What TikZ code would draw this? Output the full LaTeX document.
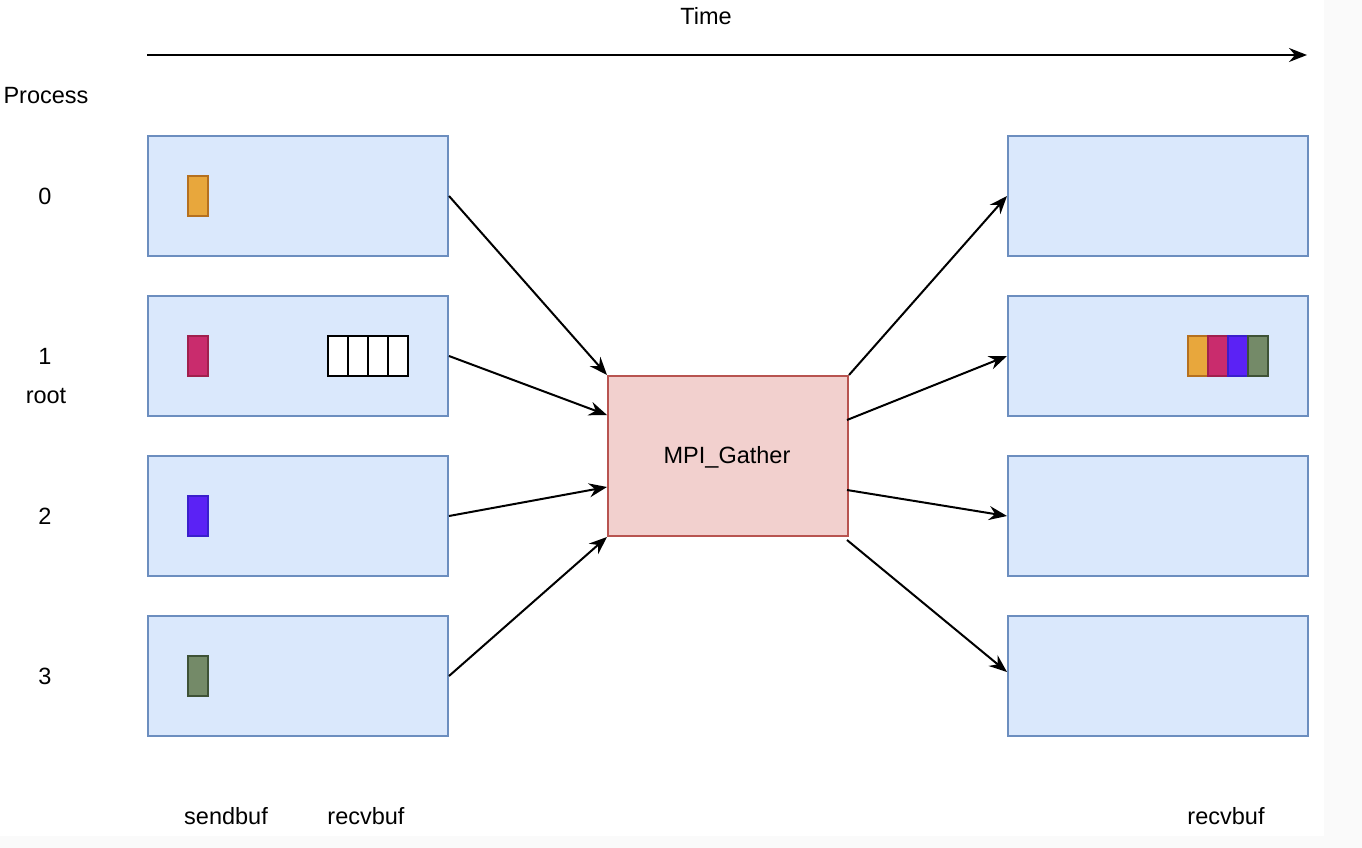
\documentclass[tikz,border=0pt]{standalone}
\usepackage{fontspec}
\setmainfont{Liberation Sans}
\usetikzlibrary{arrows.meta}
\definecolor{procfill}{HTML}{DAE8FC}
\definecolor{procdraw}{HTML}{6C8EBF}
\definecolor{gfill}{HTML}{F2D0CE}
\definecolor{gdraw}{HTML}{B85450}
\definecolor{ofill}{HTML}{E8A73C}
\definecolor{odraw}{HTML}{B5701F}
\definecolor{mfill}{HTML}{C92C6D}
\definecolor{mdraw}{HTML}{A0204D}
\definecolor{bfill}{HTML}{5B22F5}
\definecolor{bdraw}{HTML}{3A1FCC}
\definecolor{vfill}{HTML}{748A68}
\definecolor{vdraw}{HTML}{3E5236}
\definecolor{offwhite}{HTML}{FAFAFA}
\begin{document}
\begin{tikzpicture}[x=1pt,y=-1pt,
  lbl/.style={font=\fontsize{23.5}{28}\selectfont, inner sep=0pt, anchor=center},
  proc/.style={draw=procdraw, fill=procfill, line width=2pt, minimum width=300pt, minimum height=120pt, inner sep=0pt, anchor=north west},
  gather/.style={draw=gdraw, fill=gfill, line width=2pt, minimum width=240pt, minimum height=160pt, inner sep=0pt, anchor=north west},
  blk/.style={line width=2pt, minimum width=20pt, minimum height=40pt, inner sep=0pt, anchor=north west},
  cell/.style={draw=black, fill=white, line width=2pt, minimum width=20pt, minimum height=40pt, inner sep=0pt, anchor=north west},
  conn/.style={line width=2pt, -{Stealth[length=18pt,width=14pt,inset=6pt]}}
]
\fill[offwhite] (0,0) rectangle (1362,848);
\fill[white] (0,0) rectangle (1324,836);
\useasboundingbox (0,0) rectangle (1362,848);

% time axis
\node[lbl] (time) at (706,16) {Time};
\coordinate (ts) at (147,55);
\coordinate (te) at (1307,55);
\draw[conn] (ts) -- (te);

% labels
\node[lbl] (process) at (46,96) {Process};
\node[lbl] (p0) at (45,196) {0};
\node[lbl] (p1) at (45,356) {1};
\node[lbl] (root) at (46,396) {root};
\node[lbl] (p2) at (45,516) {2};
\node[lbl] (p3) at (45,676) {3};
\node[lbl] (sb) at (226,816) {sendbuf};
\node[lbl] (rb) at (366,816) {recvbuf};
\node[lbl] (rbr) at (1226,816) {recvbuf};

% left process boxes
\node[proc] (l0) at (147,135) {};
\node[proc] (l1) at (147,295) {};
\node[proc] (l2) at (147,455) {};
\node[proc] (l3) at (147,615) {};
% right process boxes
\node[proc] (r0) at (1007,135) {};
\node[proc] (r1) at (1007,295) {};
\node[proc] (r2) at (1007,455) {};
\node[proc] (r3) at (1007,615) {};

% gather
\node[gather] (g) at (607,375) {};
\node[lbl] (gt) at (727,457) {MPI\_Gather};

% send buffers
\node[blk, draw=odraw, fill=ofill] (s0) at (187,175) {};
\node[blk, draw=mdraw, fill=mfill] (s1) at (187,335) {};
\node[blk, draw=bdraw, fill=bfill] (s2) at (187,495) {};
\node[blk, draw=vdraw, fill=vfill] (s3) at (187,655) {};

% empty receive buffer
\node[cell] (c1) at (327,335) {};
\node[cell] (c2) at (347,335) {};
\node[cell] (c3) at (367,335) {};
\node[cell] (c4) at (387,335) {};

% filled receive buffer
\node[blk, draw=odraw, fill=ofill] (f1) at (1187,335) {};
\node[blk, draw=mdraw, fill=mfill] (f2) at (1207,335) {};
\node[blk, draw=bdraw, fill=bfill] (f3) at (1227,335) {};
\node[blk, draw=vdraw, fill=vfill] (f4) at (1247,335) {};

% connector end points on the gather box
\coordinate (gin1) at (607,415);
\coordinate (gin2) at (607,487);
\coordinate (gout1) at (847,420);
\coordinate (gout2) at (847,490);
\coordinate (gout3) at (847,540);
\coordinate (r3in) at (1007,672);

% connectors
\draw[conn] (l0.east) -- (g.north west);
\draw[conn] (l1.east) -- (gin1);
\draw[conn] (l2.east) -- (gin2);
\draw[conn] (l3.east) -- (g.south west);
\draw[conn] (g.north east) -- (r0.west);
\draw[conn] (gout1) -- (r1.west);
\draw[conn] (gout2) -- (r2.west);
\draw[conn] (gout3) -- (r3in);
\end{tikzpicture}
\end{document}
